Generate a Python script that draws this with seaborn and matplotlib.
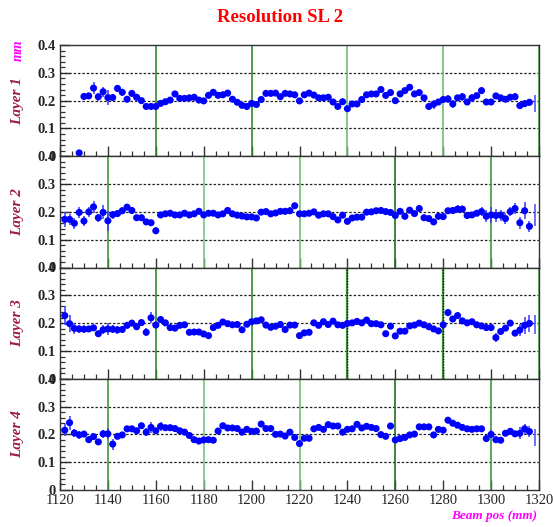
import numpy as np
import pandas as pd
import matplotlib
matplotlib.use("Agg")
import matplotlib.pyplot as plt
from matplotlib.ticker import MultipleLocator
import seaborn as sns

# ---- data: fitted resolution (mm) vs beam position, 2 mm bins ----
layer1_x0 = 1128
layer1_res = [0.012,
    0.215, 0.217, 0.245, 0.214, 0.232, 0.211, 0.211, 0.244, 0.230, 0.205,
    0.226, 0.212, 0.200, 0.179, 0.179, 0.179, 0.190, 0.196, 0.202, 0.224,
    0.208, 0.208, 0.210, 0.212, 0.202, 0.199, 0.219, 0.230, 0.219, 0.221,
    0.227, 0.205, 0.194, 0.183, 0.179, 0.190, 0.186, 0.204, 0.226, 0.226,
    0.227, 0.214, 0.226, 0.224, 0.221, 0.199, 0.221, 0.227, 0.220, 0.210,
    0.210, 0.212, 0.195, 0.179, 0.196, 0.171, 0.188, 0.188, 0.204, 0.221,
    0.224, 0.224, 0.240, 0.219, 0.229, 0.200, 0.224, 0.236, 0.248, 0.224,
    0.229, 0.210, 0.179, 0.187, 0.195, 0.204, 0.206, 0.188, 0.210, 0.214,
    0.195, 0.210, 0.218, 0.236, 0.195, 0.195, 0.217, 0.210, 0.205, 0.212,
    0.214, 0.182, 0.189, 0.194]

layer2_x0 = 1122
layer2_res = [
    0.173, 0.173, 0.159, 0.198, 0.167, 0.200, 0.218, 0.179, 0.198, 0.168,
    0.190, 0.194, 0.204, 0.217, 0.205, 0.179, 0.179, 0.164, 0.161, 0.132,
    0.189, 0.193, 0.195, 0.189, 0.189, 0.195, 0.189, 0.193, 0.202, 0.189,
    0.195, 0.195, 0.189, 0.193, 0.205, 0.193, 0.188, 0.185, 0.182, 0.182,
    0.178, 0.199, 0.201, 0.193, 0.196, 0.202, 0.202, 0.204, 0.222, 0.193,
    0.193, 0.195, 0.200, 0.188, 0.193, 0.193, 0.183, 0.171, 0.188, 0.166,
    0.178, 0.181, 0.181, 0.199, 0.200, 0.204, 0.205, 0.201, 0.198, 0.187,
    0.202, 0.184, 0.206, 0.194, 0.212, 0.179, 0.176, 0.164, 0.184, 0.183,
    0.204, 0.205, 0.210, 0.210, 0.187, 0.189, 0.195, 0.201, 0.184, 0.189,
    0.187, 0.188, 0.176, 0.201, 0.212, 0.161, 0.204, 0.148]

layer3_x0 = 1122
layer3_res = [
    0.227, 0.198, 0.181, 0.179, 0.178, 0.179, 0.183, 0.162, 0.176, 0.179,
    0.178, 0.176, 0.177, 0.192, 0.200, 0.187, 0.202, 0.167, 0.219, 0.193,
    0.213, 0.201, 0.184, 0.182, 0.192, 0.194, 0.167, 0.168, 0.168, 0.161,
    0.155, 0.184, 0.192, 0.204, 0.198, 0.194, 0.195, 0.176, 0.196, 0.205,
    0.208, 0.212, 0.193, 0.185, 0.189, 0.195, 0.177, 0.193, 0.193, 0.155,
    0.165, 0.167, 0.201, 0.192, 0.205, 0.195, 0.207, 0.194, 0.192, 0.199,
    0.201, 0.206, 0.201, 0.211, 0.198, 0.198, 0.194, 0.162, 0.189, 0.154,
    0.171, 0.171, 0.190, 0.193, 0.200, 0.194, 0.187, 0.179, 0.172, 0.194,
    0.238, 0.215, 0.227, 0.208, 0.201, 0.205, 0.194, 0.190, 0.184, 0.184,
    0.148, 0.170, 0.182, 0.200, 0.164, 0.175, 0.192, 0.199]

layer4_x0 = 1122
layer4_res = [
    0.215, 0.242, 0.205, 0.198, 0.201, 0.181, 0.192, 0.173, 0.202, 0.202,
    0.165, 0.193, 0.198, 0.220, 0.220, 0.213, 0.231, 0.208, 0.225, 0.213,
    0.229, 0.224, 0.224, 0.221, 0.213, 0.208, 0.196, 0.181, 0.176, 0.180,
    0.181, 0.179, 0.212, 0.231, 0.223, 0.223, 0.221, 0.208, 0.218, 0.211,
    0.212, 0.237, 0.221, 0.221, 0.200, 0.201, 0.194, 0.208, 0.189, 0.167,
    0.186, 0.186, 0.220, 0.225, 0.218, 0.235, 0.230, 0.230, 0.208, 0.218,
    0.220, 0.236, 0.223, 0.229, 0.225, 0.221, 0.199, 0.193, 0.230, 0.180,
    0.185, 0.189, 0.198, 0.201, 0.227, 0.227, 0.227, 0.198, 0.218, 0.215,
    0.251, 0.240, 0.233, 0.225, 0.220, 0.218, 0.220, 0.220, 0.185, 0.200,
    0.181, 0.179, 0.204, 0.211, 0.202, 0.204, 0.220, 0.210]

# statistical errors: typical value plus the bins with wider errors
base_err = 0.007
layer1_err = {1128: 0.004, 1130: 0.012, 1132: 0.012, 1134: 0.022, 1136: 0.014,
              1138: 0.018, 1140: 0.027, 1142: 0.012, 1144: 0.012, 1146: 0.012,
              1150: 0.012, 1160: 0.012, 1276: 0.016, 1282: 0.014, 1284: 0.014,
              1288: 0.014, 1290: 0.012, 1292: 0.014, 1296: 0.012, 1310: 0.012,
              1312: 0.012, 1314: 0.012, 1316: 0.012}
layer2_err = {1122: 0.028, 1124: 0.02, 1126: 0.02, 1128: 0.02, 1130: 0.018,
              1132: 0.018, 1134: 0.022, 1136: 0.015, 1138: 0.025, 1140: 0.035,
              1142: 0.014, 1144: 0.014, 1146: 0.012, 1150: 0.012, 1160: 0.012,
              1216: 0.012, 1286: 0.014, 1296: 0.016, 1298: 0.022, 1300: 0.028,
              1302: 0.025, 1304: 0.02, 1306: 0.02, 1308: 0.015, 1310: 0.02,
              1312: 0.022, 1314: 0.03, 1316: 0.02}
layer3_err = {1122: 0.035, 1124: 0.03, 1126: 0.02, 1128: 0.014, 1130: 0.014,
              1132: 0.012, 1138: 0.016, 1140: 0.02, 1142: 0.014, 1144: 0.014,
              1156: 0.014, 1158: 0.02, 1162: 0.014, 1282: 0.012, 1286: 0.012,
              1298: 0.012, 1300: 0.014, 1302: 0.016, 1310: 0.012, 1312: 0.022,
              1314: 0.03, 1316: 0.03}
layer4_err = {1122: 0.022, 1124: 0.025, 1126: 0.016, 1128: 0.014, 1130: 0.012,
              1132: 0.012, 1138: 0.014, 1140: 0.02, 1142: 0.02, 1156: 0.014,
              1158: 0.02, 1162: 0.016, 1178: 0.01, 1298: 0.014, 1300: 0.014,
              1308: 0.012, 1312: 0.022, 1314: 0.018, 1316: 0.02}

# last bin at the chamber edge (error bar only)
edge_x = 1318.5
edge_res = [0.19, 0.19, 0.195, 0.19]
edge_err = [0.03, 0.04, 0.035, 0.03]

# cell boundaries drawn in each layer
layer_wires = [
    [(1120, "#7cc47c"), (1160, "#2e8b2e"), (1200, "#2e8b2e"),
     (1240, "#6fbf6f"), (1280, "#6fbf6f"), (1320, "#4fae4f")],
    [(1140, "#3c9a3c"), (1180, "#7cc47c"), (1220, "#6fbf6f"),
     (1260, "#1f6f1f"), (1300, "#3c9a3c")],
    [(1120, "#7cc47c"), (1160, "#2e8b2e"), (1200, "#2e8b2e"),
     (1240, "#1e4a1e"), (1280, "#1e4a1e"), (1320, "#4fae4f")],
    [(1140, "#3c9a3c"), (1180, "#7cc47c"), (1220, "#6fbf6f"),
     (1260, "#1f6f1f"), (1300, "#3c9a3c")],
]
dotted_wires = [set(), set(), {1240, 1280}, set()]

layer_names = ["Layer 1", "Layer 2", "Layer 3", "Layer 4"]
x_ticks = [1120, 1140, 1160, 1180, 1200, 1220, 1240, 1260, 1280, 1300, 1320]
y_ticks = [0, 0.1, 0.2, 0.3, 0.4]

layers = [(layer1_x0, layer1_res, layer1_err),
          (layer2_x0, layer2_res, layer2_err),
          (layer3_x0, layer3_res, layer3_err),
          (layer4_x0, layer4_res, layer4_err)]

frames = []
for name, (x0, res, errs) in zip(layer_names, layers):
    xs = x0 + 2 * np.arange(len(res))
    frames.append(pd.DataFrame({
        "layer": name, "pos": xs, "res": res,
        "err": [errs.get(int(v), base_err) for v in xs]}))
data = pd.concat(frames, ignore_index=True)

sns.set_theme(style="white")
plt.rcParams["font.family"] = ["Liberation Serif", "DejaVu Serif"]
plt.rcParams["axes.linewidth"] = 1.0

fig = plt.figure(figsize=(5.54, 5.27), dpi=100)
gs = fig.add_gridspec(4, 1, left=60 / 554, right=539 / 554,
                      top=1 - 45 / 527, bottom=1 - 490 / 527, hspace=0)

label_col = "#9b1b4b"
for i, name in enumerate(layer_names):
    ax = fig.add_subplot(gs[i])
    d = data[data["layer"] == name]

    for yv in (0.1, 0.2, 0.3):
        ax.axhline(yv, color="#222222", lw=0.9, ls=(0, (2, 1.5)), zorder=1)
    for xv, col in layer_wires[i]:
        if xv in dotted_wires[i]:
            ax.axvline(xv, color="#3c9a3c", lw=1.6, zorder=1)
            ax.axvline(xv, color="#111111", lw=1.0, ls=(0, (1, 1)), zorder=1)
        else:
            ax.axvline(xv, color=col, lw=1.2, zorder=1)

    ax.errorbar(d["pos"], d["res"], yerr=d["err"], xerr=1.0, fmt="none",
                ecolor="#3a3aff", elinewidth=1.3, alpha=0.85, zorder=2)
    ax.errorbar([edge_x], [edge_res[i]], yerr=[edge_err[i]], fmt="none",
                ecolor="#5555ff", elinewidth=1.2, zorder=2)
    sns.scatterplot(data=d, x="pos", y="res", ax=ax, color="#0000ff",
                    s=26, edgecolor="none", legend=False, zorder=3)

    ax.set_xlim(1120, 1320)
    ax.set_ylim(0, 0.4)
    ax.set_xticks(x_ticks)
    ax.set_yticks(y_ticks)
    ax.xaxis.set_minor_locator(MultipleLocator(5))
    ax.yaxis.set_minor_locator(MultipleLocator(0.02))
    ax.tick_params(axis="x", which="both", direction="in", bottom=True,
                   top=False, color="#333333")
    ax.tick_params(axis="y", which="both", direction="in", left=True,
                   right=False, color="#333333")
    ax.tick_params(which="major", length=7, width=1.0)
    ax.tick_params(which="minor", length=3.5, width=0.9)
    ax.set_yticklabels(["0", "0.1", "0.2", "0.3", "0.4"],
                       fontsize=10.5, fontweight="bold")
    if i < 3:
        ax.set_xticklabels([])
    else:
        ax.set_xticklabels([str(t) for t in x_ticks], fontsize=10.5)
    ax.tick_params(axis="both", pad=3)
    ax.set_xlabel("")
    ax.set_ylabel("")
    for sp in ax.spines.values():
        sp.set_color("#333333")
        sp.set_linewidth(1.0)

    yc = 1 - (45 + 111.25 * (i + 0.5)) / 527
    fig.text(18 / 554, yc, name, rotation=90, ha="center", va="center",
             fontsize=11, fontstyle="italic", fontweight="bold", color=label_col)

fig.text(18 / 554, 1 - 50 / 527, "mm", rotation=90, ha="center", va="center",
         fontsize=10, fontstyle="italic", fontweight="bold", color="#ff00ff")
fig.text(280 / 554, 1 - 18 / 527, "Resolution SL 2", ha="center", va="center",
         fontsize=13.5, fontweight="bold", color="#ff0000")
fig.text(537 / 554, 1 - 516 / 527, "Beam pos (mm)", ha="right", va="center",
         fontsize=9.5, fontstyle="italic", fontweight="bold", color="#ff00ff")

fig.savefig("out.png", dpi=100, facecolor="white")
